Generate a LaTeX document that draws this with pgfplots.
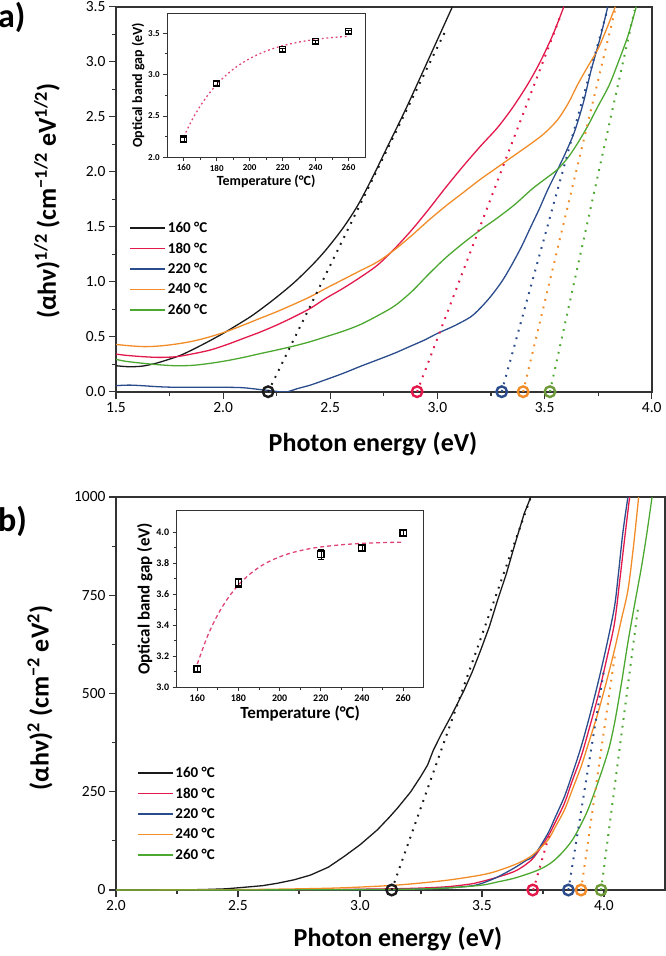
\documentclass[border=0pt]{standalone}
\usepackage{fontspec}
\setmainfont{Carlito}
\usepackage{pgfplots}
\pgfplotsset{compat=1.18}
\definecolor{cblack}{HTML}{1A1A1A}
\definecolor{cred}{HTML}{E3194B}
\definecolor{cblue}{HTML}{2B4C8C}
\definecolor{corange}{HTML}{F28C28}
\definecolor{cgreen}{HTML}{4DA832}
\definecolor{colive}{HTML}{6E9A3A}
\definecolor{cfit}{HTML}{E0457A}
\definecolor{frm}{HTML}{333333}
\pgfplotsset{
  mainax/.style={scale only axis, axis line style={line width=1.6pt, frm},
    every tick/.style={line width=1.2pt, frm}, major tick length=7pt, minor tick length=4pt,
    tick align=outside, xtick pos=bottom, ytick pos=left, minor tick num=1,
    tick label style={font=\fontsize{15.5}{15.5}\selectfont},
    /pgf/number format/assume math mode=true,
    legend style={draw=none, fill=none, font=\bfseries\fontsize{15}{15}\selectfont, anchor=north west,
      row sep=4.6pt, inner sep=0pt, cells={anchor=west}},
    legend image code/.code={\draw[#1, line width=1.4pt] (0pt,0pt) -- (35pt,0pt);},
  },
  insetax/.style={scale only axis, axis line style={line width=1pt, frm}, axis background/.style={fill=white},
    every tick/.style={line width=0.8pt, frm}, major tick length=4pt, minor tick length=2.5pt,
    tick align=outside, xtick pos=bottom, ytick pos=left, minor tick num=1,
    /pgf/number format/assume math mode=true,
  },
  dotl/.style={line width=2pt, dash pattern=on 1.8pt off 6pt, forget plot},
  circ/.style={only marks, mark=o, mark size=5.3pt, line width=2.4pt, forget plot},
  crv/.style={line width=1.3pt, smooth, tension=0.5},
}
\begin{document}
\begin{tikzpicture}[x=1pt,y=1pt]
\useasboundingbox (0,0) rectangle (666,-956);
% ---------------- panel a ----------------
\begin{axis}[mainax, at={(116pt,-391.7pt)}, anchor=south west, width=535.7pt, height=385pt,
  xmin=1.5, xmax=4.0, ymin=0, ymax=3.5,
  xtick={1.5,2.0,2.5,3.0,3.5,4.0}, ytick={0,0.5,1.0,1.5,2.0,2.5,3.0,3.5},
  xticklabel style={/pgf/number format/.cd, fixed, fixed zerofill, precision=1},
  yticklabel style={/pgf/number format/.cd, fixed, fixed zerofill, precision=1},
  legend style={at={(0.025,0.446)}}]
\addplot[cblack, crv] coordinates {(1.50,0.236) (1.56,0.227) (1.62,0.232) (1.68,0.255) (1.74,0.29) (1.80,0.33) (1.86,0.385) (1.93,0.455) (2.00,0.53) (2.06,0.60) (2.13,0.685) (2.19,0.77) (2.25,0.86) (2.33,0.99) (2.41,1.14) (2.48,1.29) (2.56,1.49) (2.63,1.70) (2.70,1.96) (2.77,2.24) (2.85,2.56) (2.93,2.90) (3.00,3.20) (3.07,3.50)};
\addlegendentry{160 °C}
\addplot[cred, crv] coordinates {(1.50,0.342) (1.55,0.330) (1.63,0.318) (1.70,0.312) (1.78,0.318) (1.86,0.345) (1.94,0.379) (2.02,0.43) (2.095,0.485) (2.17,0.54) (2.25,0.606) (2.33,0.68) (2.407,0.758) (2.48,0.85) (2.56,0.94) (2.64,1.04) (2.72,1.15) (2.80,1.30) (2.88,1.47) (2.96,1.66) (3.04,1.86) (3.12,2.05) (3.20,2.23) (3.28,2.40) (3.35,2.58) (3.42,2.79) (3.48,3.00) (3.54,3.25) (3.59,3.50)};
\addlegendentry{180 °C}
\addplot[cblue, crv] coordinates {(1.50,0.055) (1.56,0.06) (1.62,0.055) (1.70,0.045) (1.78,0.04) (1.86,0.04) (1.94,0.04) (2.02,0.04) (2.095,0.036) (2.17,0.02) (2.22,0.01) (2.26,0.0) (2.30,0.0) (2.35,0.03) (2.407,0.06) (2.48,0.11) (2.56,0.167) (2.64,0.23) (2.718,0.288) (2.80,0.35) (2.87,0.41) (2.94,0.47) (3.00,0.53) (3.08,0.60) (3.155,0.68) (3.20,0.76) (3.248,0.864) (3.30,1.00) (3.342,1.136) (3.39,1.31) (3.436,1.50) (3.475,1.66) (3.514,1.833) (3.56,2.015) (3.60,2.18) (3.639,2.36) (3.68,2.62) (3.717,2.92) (3.76,3.22) (3.795,3.50)};
\addlegendentry{220 °C}
\addplot[corange, crv] coordinates {(1.50,0.430) (1.55,0.420) (1.628,0.410) (1.70,0.415) (1.78,0.433) (1.86,0.46) (1.94,0.50) (2.02,0.55) (2.095,0.606) (2.17,0.665) (2.25,0.727) (2.33,0.795) (2.407,0.864) (2.48,0.94) (2.56,1.02) (2.64,1.10) (2.72,1.18) (2.80,1.29) (2.88,1.42) (2.96,1.56) (3.04,1.69) (3.12,1.81) (3.20,1.93) (3.28,2.04) (3.36,2.15) (3.44,2.26) (3.50,2.35) (3.56,2.47) (3.61,2.62) (3.654,2.79) (3.70,2.95) (3.748,3.11) (3.79,3.30) (3.83,3.50)};
\addlegendentry{240 °C}
\addplot[cgreen, crv] coordinates {(1.50,0.294) (1.55,0.275) (1.628,0.258) (1.70,0.245) (1.78,0.236) (1.86,0.240) (1.94,0.258) (2.02,0.283) (2.095,0.312) (2.17,0.345) (2.25,0.379) (2.33,0.415) (2.407,0.455) (2.48,0.50) (2.56,0.55) (2.64,0.61) (2.72,0.69) (2.80,0.78) (2.88,0.91) (2.96,1.07) (3.04,1.22) (3.12,1.35) (3.20,1.47) (3.28,1.58) (3.36,1.70) (3.44,1.84) (3.50,1.93) (3.56,2.02) (3.61,2.13) (3.654,2.258) (3.70,2.41) (3.748,2.59) (3.80,2.78) (3.842,2.985) (3.89,3.24) (3.928,3.50)};
\addlegendentry{260 °C}
\addplot[cblack, dotl] coordinates {(2.21,0) (3.04,3.29)};
\addplot[cred, dotl] coordinates {(2.905,0) (3.575,3.42)};
\addplot[cblue, dotl] coordinates {(3.30,0) (3.79,3.45)};
\addplot[corange, dotl] coordinates {(3.40,0) (3.83,3.48)};
\addplot[cgreen, dotl] coordinates {(3.525,0) (3.92,3.47)};
\addplot[cblack, circ] coordinates {(2.21,0)};
\addplot[cred, circ] coordinates {(2.905,0)};
\addplot[cblue, circ] coordinates {(3.30,0)};
\addplot[corange, circ] coordinates {(3.40,0)};
\addplot[colive, circ] coordinates {(3.525,0)};
\end{axis}
% inset a
\begin{axis}[insetax, at={(167.3pt,-157.3pt)}, anchor=south west, width=197.7pt, height=144pt,
  xmin=150, xmax=270, ymin=2.0, ymax=3.74,
  xtick={160,180,200,220,240,260}, ytick={2.0,2.5,3.0,3.5},
  tick label style={font=\bfseries\fontsize{9}{9}\selectfont},
  yticklabel style={/pgf/number format/.cd, fixed, fixed zerofill, precision=1},
  xlabel={Temperature (°C)}, ylabel={Optical band gap (eV)},
  label style={font=\bfseries\fontsize{14}{14}\selectfont},
  xlabel style={yshift=3pt}, ylabel style={yshift=-3pt}]
\addplot[cfit, line width=1.3pt, dash pattern=on 1.8pt off 2.8pt, smooth] coordinates {(160,2.25) (165,2.451) (170,2.620) (175,2.761) (180,2.880) (185,2.980) (190,3.064) (195,3.134) (200,3.193) (205,3.242) (210,3.284) (215,3.319) (220,3.348) (225,3.372) (230,3.393) (235,3.410) (240,3.424) (245,3.437) (250,3.447) (255,3.455) (260,3.462)};
\addplot[only marks, mark=square, mark size=3pt, line width=1.4pt, black,
  error bars/.cd, y dir=both, y explicit] coordinates {(160,2.22) +- (0,0.02) (180,2.895) +- (0,0.02) (220,3.30) +- (0,0.02) (240,3.40) +- (0,0.02) (260,3.52) +- (0,0.02)};
\end{axis}
% ---------------- panel b ----------------
\begin{axis}[mainax, at={(116pt,-890pt)}, anchor=south west, width=549pt, height=393pt,
  xmin=2.0, xmax=4.25, ymin=0, ymax=1000,
  xtick={2.0,2.5,3.0,3.5,4.0}, ytick={0,250,500,750,1000},
  xticklabel style={/pgf/number format/.cd, fixed, fixed zerofill, precision=1},
  yticklabel style={/pgf/number format/.cd, fixed, precision=0, 1000 sep={}},
  legend style={at={(0.038,0.318)}}]
\addplot[cblack, line width=1.3pt] coordinates {(2.00,0) (2.20,0.3) (2.35,1) (2.45,3) (2.523,6.8) (2.60,11) (2.66,17) (2.73,26) (2.797,38) (2.87,58) (2.934,85) (3.00,115) (3.071,153) (3.12,185) (3.153,208) (3.208,250) (3.25,290) (3.277,318) (3.30,355) (3.331,394) (3.372,441) (3.40,475) (3.427,509) (3.46,555) (3.495,611) (3.53,670) (3.564,738) (3.60,805) (3.632,874) (3.673,958) (3.70,1000)};
\addlegendentry{160 °C}
\addplot[cred, crv] coordinates {(2.00,0) (2.50,0.3) (2.80,1) (3.00,2) (3.20,4) (3.35,8) (3.45,15) (3.495,21) (3.56,32) (3.632,47) (3.68,65) (3.715,85) (3.77,136) (3.80,172) (3.838,221) (3.87,278) (3.906,339) (3.94,412) (3.975,492) (4.01,585) (4.043,679) (4.065,790) (4.084,891) (4.105,1000)};
\addlegendentry{180 °C}
\addplot[cblue, crv] coordinates {(2.00,0) (2.50,0.2) (2.80,0.5) (3.00,1) (3.20,2) (3.35,5) (3.45,10) (3.495,16) (3.56,32) (3.632,56) (3.68,75) (3.715,89) (3.77,144) (3.80,185) (3.838,238) (3.87,295) (3.906,364) (3.94,440) (3.975,526) (4.01,620) (4.043,721) (4.06,810) (4.077,908) (4.098,1000)};
\addlegendentry{220 °C}
\addplot[corange, crv] coordinates {(2.00,0) (2.30,0.5) (2.50,1) (2.70,2.5) (2.90,5) (3.085,10) (3.20,15) (3.359,25) (3.495,38) (3.56,48) (3.632,64) (3.68,78) (3.715,93) (3.77,127) (3.80,160) (3.838,204) (3.87,255) (3.906,314) (3.94,380) (3.975,450) (4.01,530) (4.043,611) (4.07,685) (4.098,763) (4.12,870) (4.142,1000)};
\addlegendentry{240 °C}
\addplot[cgreen, crv] coordinates {(2.00,0) (2.50,0.2) (2.80,0.5) (3.00,1) (3.20,2) (3.35,5) (3.495,12) (3.56,20) (3.632,30) (3.715,47) (3.76,60) (3.797,76) (3.84,103) (3.879,136) (3.934,204) (3.988,297) (4.02,360) (4.043,424) (4.07,520) (4.098,630) (4.125,725) (4.153,820) (4.175,905) (4.197,1000)};
\addlegendentry{260 °C}
\addplot[cblack, dotl] coordinates {(3.13,0) (3.70,1000)};
\addplot[cred, dotl] coordinates {(3.71,0) (3.78,150)};
\addplot[cblue, dotl] coordinates {(3.854,0) (4.00,560)};
\addplot[corange, dotl] coordinates {(3.906,0) (4.045,600)};
\addplot[cgreen, dotl] coordinates {(3.988,0) (4.14,720)};
\addplot[cblack, circ] coordinates {(3.13,0)};
\addplot[cred, circ] coordinates {(3.708,0)};
\addplot[cblue, circ] coordinates {(3.854,0)};
\addplot[corange, circ] coordinates {(3.906,0)};
\addplot[colive, circ] coordinates {(3.988,0)};
\end{axis}
% inset b
\begin{axis}[insetax, at={(176.7pt,-687.3pt)}, anchor=south west, width=247pt, height=176.8pt,
  xmin=150, xmax=270, ymin=3.0, ymax=4.14,
  xtick={160,180,200,220,240,260}, ytick={3.0,3.2,3.4,3.6,3.8,4.0},
  tick label style={font=\bfseries\fontsize{10}{10}\selectfont},
  yticklabel style={/pgf/number format/.cd, fixed, fixed zerofill, precision=1},
  xlabel={Temperature (°C)}, ylabel={Optical band gap (eV)},
  label style={font=\bfseries\fontsize{17}{17}\selectfont},
  xlabel style={yshift=3pt}, ylabel style={yshift=-3pt}]
\addplot[cfit, line width=1.3pt, dash pattern=on 4pt off 3pt, smooth] coordinates {(160,3.150) (165,3.331) (170,3.470) (175,3.577) (180,3.660) (185,3.724) (190,3.774) (195,3.812) (200,3.841) (205,3.864) (210,3.881) (215,3.895) (220,3.905) (230,3.919) (240,3.928) (250,3.933) (260,3.936)};
\addplot[only marks, mark=square, mark size=3.2pt, line width=1.4pt, black,
  error bars/.cd, y dir=both, y explicit] coordinates {(160,3.118) +- (0,0.015) (180,3.674) +- (0,0.03) (220,3.858) +- (0,0.03) (240,3.90) +- (0,0.015) (260,3.995) +- (0,0.015)};
\end{axis}
% labels
\node[font=\bfseries\fontsize{26}{26}\selectfont] at (373,-444) {Photon energy (eV)};
\node[font=\bfseries\fontsize{26}{26}\selectfont] at (398,-939) {Photon energy (eV)};
\node[font=\bfseries\fontsize{26}{26}\selectfont, rotate=90] at (47,-201) {(αhν)\textsuperscript{1/2} (cm\textsuperscript{−1/2} eV\textsuperscript{1/2})};
\node[font=\bfseries\fontsize{26}{26}\selectfont, rotate=90] at (40,-698) {(αhν)\textsuperscript{2} (cm\textsuperscript{−2} eV\textsuperscript{2})};
\node[font=\bfseries\fontsize{34}{34}\selectfont, anchor=base west, inner sep=0pt] at (-2,-27) {a)};
\node[font=\bfseries\fontsize{34}{34}\selectfont, anchor=base west, inner sep=0pt] at (-2,-531) {b)};
\end{tikzpicture}
\end{document}
